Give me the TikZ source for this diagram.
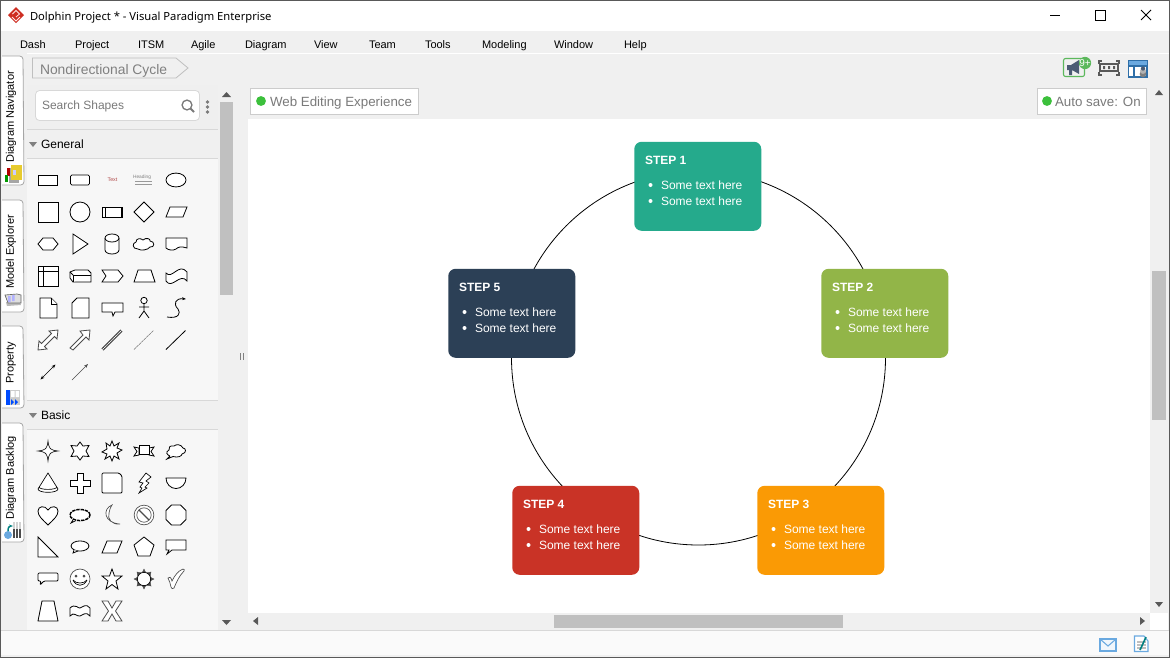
\documentclass[tikz,border=0pt]{standalone}
\usepackage{fontspec}
\setmainfont{Liberation Sans}
\newfontfamily\uifont{Noto Sans}
\usetikzlibrary{shapes.geometric,arrows.meta}
\definecolor{chrome}{HTML}{F0F0F0}
\definecolor{palbg}{HTML}{F7F7F7}
\definecolor{thumb}{HTML}{C0C0C0}
\definecolor{edgeg}{HTML}{D8D8D8}
\definecolor{sone}{HTML}{25AA8C}
\definecolor{stwo}{HTML}{92B548}
\definecolor{sthree}{HTML}{FA9A05}
\definecolor{sfour}{HTML}{C93326}
\definecolor{sfive}{HTML}{2C4056}
\definecolor{okgreen}{HTML}{3CC03C}
\definecolor{greytext}{HTML}{7A7A7A}
\definecolor{iconblue}{HTML}{6AA9E0}
\definecolor{slate}{HTML}{4B5B73}
\definecolor{badgeg}{HTML}{5CB85C}
\definecolor{winblue}{HTML}{2F6FA8}
\tikzset{
  x=0.75pt,y=-0.75pt,
  lab/.style={anchor=base west,inner sep=0pt,outer sep=0pt},
  menu/.style={lab,font=\fontsize{8.25pt}{10pt}\selectfont,text=black},
  side/.style={inner sep=0pt,rotate=90,font=\fontsize{8.25pt}{10pt}\selectfont,text=black},
  grey/.style={lab,font=\fontsize{10pt}{12pt}\selectfont,text=greytext},
  tabshape/.style={draw=gray!70,fill=white,rounded corners=2.5pt,line width=.6pt},
  cardbox/.style={rounded corners=5.5pt,minimum width=95.25pt,minimum height=66.75pt,inner sep=0pt,draw=none},
  cardtitle/.style={lab,text=white,font=\bfseries\fontsize{9pt}{11pt}\selectfont},
  cardtext/.style={lab,text=white,font=\fontsize{9pt}{11pt}\selectfont},
  ic/.style={draw=black,line width=.6pt,fill=white,line join=miter},
  arrowtri/.style={fill=black!65,draw=none},
}
\newcommand{\ico}[3]{\begin{scope}[shift={(#1,#2)},every path/.append style={ic}]#3\end{scope}}
\newcommand{\stepcard}[5]{% name, left, top, colour, number
  \node[cardbox,fill=#4,anchor=north west] (#1) at (#2-1,#3-0.5) {};
  \begin{scope}[shift={(#2,#3)}]
    \node[cardtitle] (#1t) at (10,22) {STEP #5};
    \fill[white] (15.5,43) circle (1.5pt);
    \fill[white] (15.5,59) circle (1.5pt);
    \node[cardtext] (#1a) at (26,47) {Some text here};
    \node[cardtext] (#1b) at (26,63) {Some text here};
  \end{scope}}
\begin{document}
\begin{tikzpicture}
\useasboundingbox (0,0) rectangle (1170,658);
% chrome
\fill[chrome] (0,0) rectangle (1170,658);
\fill[white] (0,0) rectangle (1170,31);
\draw[white,line width=.75pt] (0,53.5) -- (1170,53.5);
% title
\fill[sfour!90!red] (16,7) -- (24,15) -- (16,23) -- (8,15) -- cycle;
\draw[white!90!red,line width=.6pt] (12.5,14) -- (16,10.5) -- (19.5,14) -- (16,17);
\draw[white!90!red,line width=.6pt] (12,17) -- (16,21) -- (20,17);
\node[lab,font=\uifont\fontsize{8.4pt}{10pt}\selectfont] (title) at (30,20) {Dolphin Project * - Visual Paradigm Enterprise};
\draw[black,line width=.75pt] (1050,15) -- (1060,15);
\draw[black,line width=.75pt] (1095.5,10.5) rectangle (1105.5,20.5);
\draw[black,line width=.75pt] (1141,10) -- (1151,20) (1151,10) -- (1141,20);
% menu
\node[menu] (m1) at (20,48) {Dash};
\node[menu] (m2) at (75,48) {Project};
\node[menu] (m3) at (138,48) {ITSM};
\node[menu] (m4) at (191,48) {Agile};
\node[menu] (m5) at (245,48) {Diagram};
\node[menu] (m6) at (314,48) {View};
\node[menu] (m7) at (369,48) {Team};
\node[menu] (m8) at (425,48) {Tools};
\node[menu] (m9) at (482,48) {Modeling};
\node[menu] (m10) at (554,48) {Window};
\node[menu] (m11) at (624,48) {Help};
% breadcrumb
\draw[fill=chrome,draw=gray!50,line width=.6pt] (32.5,58) -- (176,58) -- (188,68) -- (176,78) -- (32.5,78) -- cycle;
\node[grey,text=gray,font=\fontsize{10.4pt}{12pt}\selectfont] (crumb) at (40,74) {Nondirectional Cycle};
% palette
\fill[palbg] (27,85) rectangle (218,631);
\fill[chrome!95!black!60!white] (27,85) rectangle (218,129);
\fill[chrome] (27,130) rectangle (218,158);
\draw[edgeg,line width=.6pt] (27,129.5) -- (218,129.5) (27,158.5) -- (218,158.5);
\fill[chrome] (27,401) rectangle (218,429);
\draw[edgeg,line width=.6pt] (27,400.5) -- (218,400.5) (27,429.5) -- (218,429.5);
\fill[chrome] (218,85) rectangle (248,631);
\draw[fill=white,draw=edgeg,rounded corners=3pt,line width=.6pt] (35.5,90.5) rectangle (199.5,120.5);
\node[lab,text=greytext,font=\fontsize{9pt}{11pt}\selectfont] (search) at (42,109) {Search Shapes};
\draw[greytext,line width=1pt] (187,105) circle (3.7pt);
\draw[greytext,line width=1.4pt] (190.5,108.5) -- (194,112);
\fill[greytext] (207.5,102) circle (1.4pt) (207.5,107) circle (1.4pt) (207.5,112) circle (1.4pt);
\fill[arrowtri,gray] (29,142) -- (37,142) -- (33,147) -- cycle;
\node[lab,font=\fontsize{9pt}{10pt}\selectfont] (gen) at (41,148) {General};
\fill[arrowtri,gray] (29,413) -- (37,413) -- (33,418) -- cycle;
\node[lab,font=\fontsize{9pt}{10pt}\selectfont] (bas) at (41,419) {Basic};
% palette scrollbar
\fill[chrome] (219,85) rectangle (233,631);
\fill[thumb] (220,102) rectangle (233,295);
\fill[arrowtri] (222,97) -- (231,97) -- (226.5,92) -- cycle;
\fill[arrowtri] (222,620) -- (231,620) -- (226.5,625) -- cycle;
\draw[gray,line width=.5pt] (240,353) -- (240,360) (243,353) -- (243,360);
% side tabs
\fill[chrome] (0,53) rectangle (27,631);
\draw[tabshape] (2,56) -- (23,56) -- (24,185) -- (2,185);
\draw[tabshape] (2,200) -- (23,200) -- (24,312) -- (2,312);
\draw[tabshape] (2,326) -- (23,326) -- (24,408) -- (2,408);
\draw[tabshape] (2,423) -- (23,423) -- (24,542) -- (2,542);
\node[side] (t1) at (11,117) {Diagram Navigator};
\node[side] (t2) at (11,252) {Model Explorer};
\node[side] (t3) at (11,363) {Property};
\node[side] (t4) at (11,478) {Diagram Backlog};
% tab icons
\fill[gray!70] (9,168) rectangle (19,183);
\fill[yellow!60!brown] (11,165) rectangle (22,180);
\fill[white!80!blue] (13,170) rectangle (16,175);
\fill[red!70!black] (7,168) rectangle (10,176);
\fill[green!60!black] (4.5,175) rectangle (8,182);
\fill[gray!55] (6,302) -- (20,302) -- (21,305) -- (7,306) -- cycle;
\draw[fill=gray!25,draw=black!60,line width=.5pt] (5,295) -- (17,294) -- (21,295) -- (21,303) -- (8,303) -- cycle;
\fill[white!70!blue] (8,296) rectangle (10.5,302) (12,295) rectangle (14.5,301);
\fill[blue!70!cyan] (6,390) rectangle (11,405);
\fill[gray!40] (10,390) rectangle (20,405);
\fill[white] (11,391) rectangle (14.5,397) (15.5,391) rectangle (19,397);
\fill[blue!70!cyan] (11,399) -- (14,402) -- (11,405) -- cycle (15,399) -- (18,402) -- (15,405) -- cycle;
\draw[teal,line width=1.1pt,-{Stealth[length=3pt]}] (8,532) .. controls (8,527) and (9,526) .. (13,526);
\fill[iconblue] (8,535) circle (3pt);
\fill[black!70] (13,529) rectangle (21,538);
\fill[gray!35] (13,522) rectangle (21,529);
\draw[white,line width=.4pt] (15.7,522) -- (15.7,538) (18.4,522) -- (18.4,538);
% canvas
\fill[white] (248,119) rectangle (1150,613);
\draw[fill=white,draw=chrome!85!black,line width=.6pt] (250.5,88.5) rectangle (418.5,114.5);
\fill[okgreen] (261,101) circle (3.7pt);
\node[grey] (web) at (270,106) {Web Editing Experience};
\draw[fill=white,draw=chrome!85!black,line width=.6pt] (1037.5,88.5) rectangle (1146.5,114.5);
\fill[okgreen] (1047,101) circle (3.7pt);
\node[grey] (auto) at (1055,106) {Auto save: On};
% scrollbars
\fill[chrome] (1151,85) rectangle (1168,613);
\fill[thumb] (1152,271) rectangle (1166,420);
\fill[arrowtri] (1155,95) -- (1163,95) -- (1159,90) -- cycle;
\fill[arrowtri] (1155,602) -- (1163,602) -- (1159,607) -- cycle;
\fill[chrome] (248,613) rectangle (1150,630);
\fill[thumb] (554,615) rectangle (843,628);
\fill[arrowtri] (258,617) -- (258,625) -- (253,621) -- cycle;
\fill[arrowtri] (1140,617) -- (1140,625) -- (1145,621) -- cycle;
\fill[white] (1150,613) rectangle (1168,630);
% status bar
\draw[edgeg,line width=.6pt] (0,630.5) -- (1170,630.5);
\fill[palbg!60!white] (0,631) rectangle (1170,655);
\draw[iconblue,fill=white!90!iconblue,line width=1pt] (1100,639) rectangle (1116,651);
\draw[iconblue,line width=.8pt] (1100,639) -- (1108,646) -- (1116,639);
\draw[iconblue,fill=white,line width=.8pt] (1134.5,636) -- (1144,636) -- (1148,641) -- (1148,651.5) -- (1134.5,651.5) -- cycle;
\draw[gray!50,line width=.8pt] (1137,642) -- (1146,642) (1137,645) -- (1146,645) (1137,648) -- (1146,648);
\draw[teal,line width=1.2pt] (1140,650) -- (1146,637);
% top-right icons
\draw[badgeg,fill=chrome,rounded corners=1.5pt,line width=.8pt] (1063.5,58.5) rectangle (1084.5,76.5);
\fill[slate] (1067,65) -- (1071,65) -- (1079,60) -- (1079,74) -- (1072,70) -- (1072,75) -- (1069,75) -- (1069,70) -- (1067,70) -- cycle;
\fill[badgeg] (1085,63) circle (4.6pt);
\node[inner sep=0pt,text=white,font=\fontsize{7.5pt}{8pt}\selectfont] (badge) at (1085,63) {9+};
\draw[black!65,line width=1pt] (1100,64) rectangle (1118,71);
\fill[black!65] (1103,66) rectangle (1105,69) (1108,66) rectangle (1110,69) (1113,66) rectangle (1115,69);
\draw[black!65,line width=1pt] (1099,64) -- (1099,61) -- (1102,61) (1119,64) -- (1119,61) -- (1116,61) (1099,72) -- (1099,75) -- (1102,75) (1119,72) -- (1119,75) -- (1116,75);
\draw[winblue,fill=white,line width=.8pt] (1128.5,60.5) rectangle (1147,77);
\fill[iconblue] (1128.5,60.5) rectangle (1147,65.5);
\draw[winblue,line width=.8pt] (1128.5,66) -- (1147,66) (1134,66) -- (1134,77);
\fill[gray] (1143,74) circle (2.5pt);
\fill[gray!60] (1143,71) circle (2.2pt);
\fill[slate] (1143,68.5) circle (1.6pt);
% diagram
\node[circle,draw=black,line width=.6pt,minimum size=280.5pt,inner sep=0pt] (ring) at (698.5,358) {};
\stepcard{s1}{635}{142}{sone}{1}
\stepcard{s2}{822}{269}{stwo}{2}
\stepcard{s3}{758}{486}{sthree}{3}
\stepcard{s4}{513}{486}{sfour}{4}
\stepcard{s5}{449}{269}{sfive}{5}
% general shapes
\ico{48}{180}{\draw (-9.5,-5) rectangle (9.5,5);}
\ico{80}{180}{\draw[rounded corners=1pt] (-9.5,-5) rectangle (9.5,5);}
\node[inner sep=0pt,text=red!40!gray,font=\fontsize{4pt}{5pt}\selectfont] (ptext) at (112.5,180) {Text};
\node[inner sep=0pt,text=gray,font=\fontsize{3.6pt}{4pt}\selectfont] (phead) at (142,177) {Heading};
\draw[gray!80,line width=.4pt] (135,181) -- (152,181) (135,184) -- (152,184);
\ico{176}{180}{\draw (0,0) ellipse (7.5pt and 5.2pt);}
\ico{48}{212}{\draw (-10,-10) rectangle (10,10);}
\ico{80}{212}{\draw (0,0) circle (7.5pt);}
\ico{112}{212}{\draw (-10,-5) rectangle (10,5); \draw (-7,-5) -- (-7,5); \draw (9,-5) -- (9,5);}
\ico{144}{212}{\draw (-10,0) -- (0,-10) -- (10,0) -- (0,10) -- cycle;}
\ico{176}{212}{\draw (-10,5) -- (-6,-5) -- (11,-5) -- (7,5) -- cycle;}
\ico{48}{244}{\draw (-10,0) -- (-5,-6) -- (5,-6) -- (10,0) -- (5,6) -- (-5,6) -- cycle;}
\ico{80}{244}{\draw (-7,-10) -- (8,0) -- (-7,10) -- cycle;}
\ico{112}{244}{\draw (-7,-6) -- (-7,6) arc[start angle=180,end angle=360,x radius=5.25pt,y radius=3pt] -- (7,-6); \draw (0,-6) ellipse (5.25pt and 3pt);}
\ico{144}{244}{\draw (-6,5) .. controls (-12,5) and (-12,-1) .. (-8,-2) .. controls (-8,-6) and (-3,-6) .. (-1,-4) .. controls (2,-7) and (7,-5) .. (6,-3) .. controls (11,-3) and (11,4) .. (6,3) .. controls (4,6) and (-3,7) .. (-6,5) -- cycle;}
\ico{176}{244}{\draw (-10,-6) -- (11,-6) -- (11,4) .. controls (5,2) and (2,3) .. (0,5) .. controls (-3,7) and (-8,6) .. (-10,4) -- cycle;}
\ico{48}{276}{\draw (-10,-10) rectangle (10,10); \draw (-10,-5) -- (10,-5); \draw (-5,-10) -- (-5,10);}
\ico{80}{276}{\draw (-10,-4) -- (-5,-6) -- (8,-6) -- (11,-3) -- (11,6) -- (-7,6) -- (-10,2) -- cycle; \draw (-7,6) -- (-7,-1) -- (11,-1); \draw (-7,-1) -- (-10,-4);}
\ico{112}{276}{\draw (-10,-6) -- (6,-6) -- (11,0) -- (6,6) -- (-10,6) -- (-6,0) -- cycle;}
\ico{144}{276}{\draw (-10,6) -- (-6,-6) -- (7,-6) -- (11,6) -- cycle;}
\ico{176}{276}{\draw (-10,-3) .. controls (-4,4) and (3,-14) .. (11,-4) -- (11,5) .. controls (4,-4) and (-4,14) .. (-10,5) -- cycle;}
\ico{48}{308}{\draw (-8,-10) -- (3,-10) -- (9,-4) -- (9,10) -- (-8,10) -- cycle; \draw (3,-10) -- (3,-4) -- (9,-4);}
\ico{80}{308}{\draw (-3,-10) -- (9,-10) -- (9,10) -- (-8,10) -- (-8,-5) -- cycle;}
\ico{112}{308}{\draw (-10,-5) -- (11,-5) -- (11,4) -- (3,4) -- (1,8) -- (0,4) -- (-10,4) -- cycle;}
\ico{144}{308}{\draw (0,-7.5) circle (2.4pt); \draw[fill=none] (0,-4) -- (0,3) (-5,-1) -- (5,-1) (0,3) -- (-5,10) (0,3) -- (5,10);}
\ico{176}{308}{\draw[fill=none,-{Stealth[length=3pt]}] (-9,9) .. controls (3,11) and (5,5) .. (2,1) .. controls (-3,-4) and (-1,-10) .. (10,-9);}
\ico{48}{340}{\draw[fill=white,draw=black!70] (-10,10) -- (-9,1) -- (-6.5,3.5) -- (3.5,-6.5) -- (1,-9) -- (10,-10) -- (9,-1) -- (6.5,-3.5) -- (-3.5,6.5) -- (-1,9) -- cycle;}
\ico{80}{340}{\draw[fill=white,draw=black!70] (-10,8) -- (3,-5) -- (0,-9) -- (10,-10) -- (9,0) -- (6,-3) -- (-7,10) -- cycle;}
\ico{112}{340}{\draw[line width=1.9pt] (-9.5,9.5) -- (9.5,-9.5); \draw[white,line width=.9pt,dash pattern=on .5pt off .4pt] (-9.5,9.5) -- (9.5,-9.5);}
\ico{144}{340}{\draw[gray,line width=.4pt,dash pattern=on 2pt off .6pt] (-10,9.5) -- (9.5,-9.5);}
\ico{176}{340}{\draw (-10,9.5) -- (9.5,-9.5);}
\ico{48}{372}{\draw[line width=.5pt,{Stealth[length=3pt]}-{Stealth[length=3pt]}] (-7.5,7.5) -- (7.5,-7.5);}
\ico{80}{372}{\draw[line width=.5pt,-{Stealth[length=3pt]},draw=black!70] (-8,8) -- (8,-8);}
% basic shapes
\ico{48}{451}{\draw[line width=.45pt] (-10,0) .. controls (-2,-1) and (-1,-2) .. (0,-10) .. controls (1,-2) and (2,-1) .. (10,0) .. controls (2,1) and (1,2) .. (0,10) .. controls (-1,2) and (-2,1) .. (-10,0) -- cycle;}
\ico{80}{451}{\draw (0,-9) -- (3,-5) -- (9,-5.5) -- (6,0) -- (9,5.5) -- (3,5) -- (0,9) -- (-3,5) -- (-9,5.5) -- (-6,0) -- (-9,-5.5) -- (-3,-5) -- cycle;}
\ico{112}{451}{\draw (-6,-8) -- (-2,-5) -- (0,-10) -- (2,-5) -- (7,-8) -- (5,-3) -- (10,-1) -- (5,2) -- (7,8) -- (2,5) -- (0,10) -- (-2,5) -- (-7,8) -- (-5,3) -- (-10,1) -- (-5,-2) -- cycle;}
\ico{144}{451}{\draw (-10,-4) -- (-5,-3) -- (-5,4) -- (-10,5) -- (-7,0.5) -- cycle; \draw (10,-4) -- (5,-3) -- (5,4) -- (10,5) -- (7,.5) -- cycle; \draw (-5,-6) rectangle (5,3);}
\ico{176}{451}{\draw (-6,5) -- (-9,8) -- (-3,5.5) .. controls (2,7) and (6,5) .. (6,3) .. controls (11,2) and (10,-3) .. (7,-3) .. controls (5,-7) and (0,-7) .. (-2,-5) .. controls (-6,-6) and (-8,-3) .. (-7,-1) .. controls (-11,1) and (-9,4) .. (-6,5);}
\ico{48}{483}{\draw[line width=.5pt] (0,-10) -- (10,6) arc[start angle=0,end angle=-180,x radius=7.5pt,y radius=2.5pt] -- cycle; \draw[fill=none,line width=.5pt] (-9,4) arc[start angle=180,end angle=360,x radius=6.7pt,y radius=1.8pt];}
\ico{80}{483}{\draw (-3,-10) -- (3,-10) -- (3,-3) -- (10,-3) -- (10,3) -- (3,3) -- (3,10) -- (-3,10) -- (-3,3) -- (-10,3) -- (-10,-3) -- (-3,-3) -- cycle;}
\ico{112}{483}{\draw[rounded corners=.8pt] (-10,-10) -- (7,-10) -- (10,-7) -- (10,10) -- (-10,10) -- cycle;}
\ico{144}{483}{\draw[line width=.5pt] (2,-10) -- (7,-6) -- (2,-2) -- (5,0) -- (1,4) -- (3,5) -- (-5,10) -- (-2,5) -- (-4,4) -- (-1,0) -- (-5,-1) -- cycle;}
\ico{176}{483}{\draw (-10,-5) arc[start angle=180,end angle=360,x radius=7.5pt,y radius=7.9pt] -- cycle;}
\ico{48}{515}{\draw (0,10) .. controls (-6,4) and (-10,1) .. (-10,-4) .. controls (-10,-9) and (-3,-10) .. (0,-5) .. controls (3,-10) and (10,-9) .. (10,-4) .. controls (10,1) and (6,4) .. (0,10) -- cycle;}
\ico{80}{515}{\draw[line width=1.1pt,dash pattern=on 2.5pt off .7pt] (0,0) ellipse (7.5pt and 4.2pt); \draw (-7,5) -- (-9,8) -- (-4,5.5);}
\ico{112}{515}{\draw[draw=black!70,line width=.5pt] (0,-10) .. controls (-10,-6) and (-8,8) .. (8,9) .. controls (0,10) and (-5,4) .. (-3,-2) .. controls (-2,-5) and (-2,-8) .. (0,-10) -- cycle;}
\ico{144}{515}{\draw[draw=black!70,line width=.5pt] (0,0) circle (7.4pt); \draw[draw=black!70,line width=.5pt] (0,0) circle (5.4pt); \draw[draw=black!70,line width=1pt] (-5,-5) -- (5,5);}
\ico{176}{515}{\draw (-10,-4.5) -- (-4.5,-10) -- (4.5,-10) -- (10,-4.5) -- (10,4.5) -- (4.5,10) -- (-4.5,10) -- (-10,4.5) -- cycle;}
\ico{48}{547}{\draw (-10,-10) -- (10,10) -- (-10,10) -- cycle;}
\ico{80}{547}{\draw (0,-1) ellipse (6.7pt and 3.8pt); \draw (-6,3) -- (-7,6) -- (-2,4);}
\ico{112}{547}{\draw (-10,6) -- (-5,-6) -- (10,-6) -- (5,6) -- cycle;}
\ico{144}{547}{\draw (0,-10) -- (10,-2) -- (6,9) -- (-6,9) -- (-10,-2) -- cycle;}
\ico{176}{547}{\draw (-10,-7) -- (10,-7) -- (10,3) -- (-4,3) -- (-9,7) -- (-7,3) -- (-10,3) -- cycle;}
\ico{48}{579}{\draw[rounded corners=.8pt] (-10,-6) -- (10,-6) -- (10,2) -- (-4,2) -- (-8,6) -- (-7,2) -- (-10,2) -- cycle;}
\ico{80}{579}{\draw[draw=black!70,line width=.5pt] (0,0) circle (7.5pt); \fill[black!70] (-4,-3) circle (.7pt) (4,-3) circle (.7pt); \draw[fill=none,line width=.5pt] (-7,1) .. controls (-4,8) and (4,8) .. (7,1); \draw[fill=none,line width=.5pt] (-7,1) .. controls (-4,5) and (4,5) .. (7,1);}
\ico{112}{579}{\draw (0,-10) -- (2.5,-3) -- (10,-3) -- (4,2) -- (6,10) -- (0,5.5) -- (-6,10) -- (-4,2) -- (-10,-3) -- (-2.5,-3) -- cycle;}
\ico{144}{579}{\draw[fill=black!70,draw=black!70,line width=.3pt] (0,-10) -- (2,-6) -- (7,-7) -- (6,-2) -- (10,0) -- (6,2) -- (7,7) -- (2,6) -- (0,10) -- (-2,6) -- (-7,7) -- (-6,2) -- (-10,0) -- (-6,-2) -- (-7,-7) -- (-2,-6) -- cycle; \draw[fill=white,draw=black,line width=.5pt] (0,0) circle (5pt);}
\ico{176}{579}{\draw[draw=black!70,line width=.5pt] (-8,-1) .. controls (-7,-3) and (-5,-2) .. (-4,2) .. controls (-1,-4) and (2,-8) .. (7,-10) .. controls (8,-10) and (9,-9) .. (8,-8) .. controls (3,-3) and (0,4) .. (-2,9) .. controls (-3,10) and (-5,10) .. (-5,8) .. controls (-5,5) and (-7,2) .. (-8,-1) -- cycle;}
\ico{48}{611}{\draw (-6,-10) -- (6,-10) -- (10,10) -- (-10,10) -- cycle;}
\ico{80}{611}{\draw (-10,-3) .. controls (-5,-8) and (-1,-2) .. (0,-3) .. controls (3,-4) and (6,-8) .. (10,-3) -- (10,5) .. controls (6,0) and (3,4) .. (0,5) .. controls (-3,6) and (-6,0) .. (-10,5) -- cycle;}
\ico{112}{611}{\draw[draw=black!70] (-10,-10) -- (-4,-10) -- (0,-3) -- (4,-10) -- (10,-10) -- (3.5,0) -- (10,10) -- (4,10) -- (0,3) -- (-4,10) -- (-10,10) -- (-3.5,0) -- cycle;}
% outer frame
\draw[black!65,line width=1.1pt] (.7,.7) rectangle (1169.3,657.3);
\end{tikzpicture}
\end{document}
